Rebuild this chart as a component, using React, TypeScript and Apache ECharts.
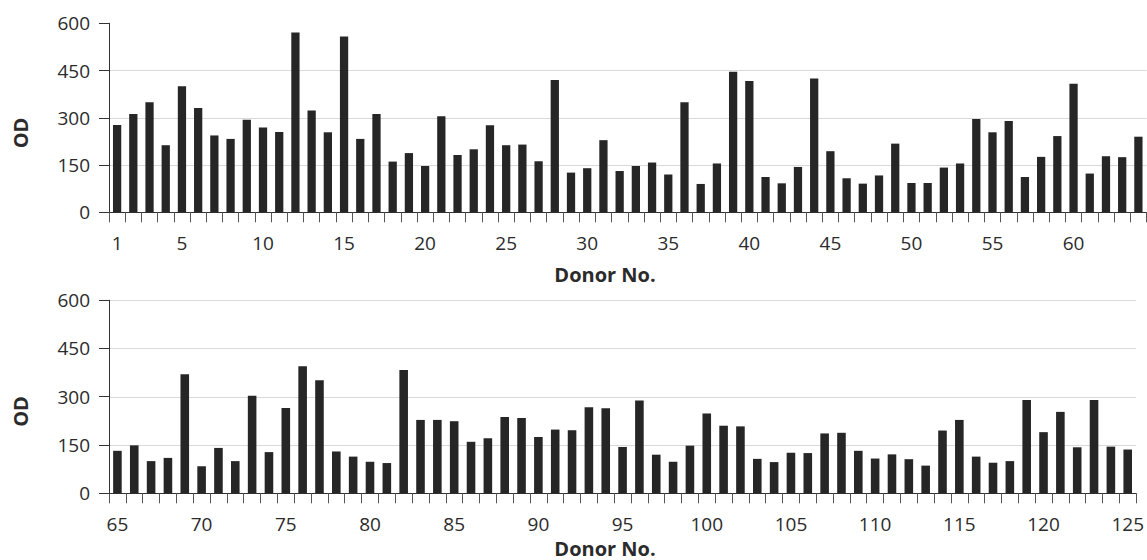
import React, { useEffect, useRef } from "react";
import * as echarts from "echarts";

const topDonors: string[] = Array.from({ length: 64 }, (_, i) => String(i + 1));
const topValues: number[] = [
  277, 312, 349, 213, 400, 331, 244, 233, 294, 269,
  255, 571, 323, 254, 558, 233, 312, 161, 188, 147,
  305, 182, 200, 276, 213, 215, 162, 420, 126, 140,
  229, 131, 147, 158, 120, 349, 90, 155, 446, 417,
  112, 92, 144, 425, 194, 108, 91, 117, 218, 93,
  93, 142, 155, 296, 254, 290, 112, 176, 242, 408,
  123, 178, 175, 240,
];

const bottomDonors: string[] = Array.from({ length: 61 }, (_, i) => String(i + 65));
const bottomValues: number[] = [
  132, 149, 100, 110, 370, 84, 141, 100, 303, 128,
  265, 395, 351, 130, 114, 98, 94, 383, 228, 228,
  224, 160, 171, 237, 234, 175, 198, 196, 267, 264,
  144, 288, 120, 98, 148, 248, 210, 208, 107, 97,
  126, 125, 186, 188, 132, 108, 121, 106, 86, 195,
  228, 114, 95, 100, 290, 190, 253, 143, 290, 145,
  136,
];

const yTicks: number[] = [0, 150, 300, 450, 600];

const FONT = '"Open Sans", "Noto Sans", sans-serif';
const TEXT = "#2b2b2b";

export default function App() {
  const ref = useRef<HTMLDivElement>(null);

  useEffect(() => {
    if (!ref.current) return;
    const chart = echarts.init(ref.current, undefined, { renderer: "svg" });

    const labelInterval = (idx: number, val: string) =>
      idx === 0 || Number(val) % 5 === 0;

    const xAxisBase = {
      type: "category" as const,
      boundaryGap: true,
      axisLine: { lineStyle: { color: "#333", width: 1 } },
      axisTick: {
        show: true,
        interval: 0,
        length: 10,
        inside: false,
        lineStyle: { color: "#555", width: 1 },
      },
      axisLabel: {
        interval: labelInterval,
        color: TEXT,
        fontSize: 19,
        lineHeight: 19,
        fontFamily: FONT,
        margin: 21,
        showMaxLabel: true,
      },
      splitLine: { show: false },
    };

    const yAxisBase = {
      type: "value" as const,
      min: yTicks[0],
      max: yTicks[yTicks.length - 1],
      interval: yTicks[1] - yTicks[0],
      axisLine: { show: true, lineStyle: { color: "#333", width: 1 } },
      axisTick: { show: true, length: 10, lineStyle: { color: "#333", width: 1 } },
      axisLabel: {
        color: TEXT,
        fontSize: 19,
        fontFamily: FONT,
        margin: 19,
      },
    };

    const titleStyle = {
      fontFamily: FONT,
      fontSize: 20,
      fontWeight: "bold",
      lineHeight: 20,
      fill: TEXT,
      align: "center",
      verticalAlign: "middle",
    };

    chart.setOption({
      animation: false,
      backgroundColor: "#ffffff",
      grid: [
        { left: 109, right: 0.5, top: 23.3, height: 189 },
        { left: 109, right: 9, top: 300.2, height: 193.1 },
      ],
      xAxis: [
        { ...xAxisBase, gridIndex: 0, data: topDonors },
        { ...xAxisBase, gridIndex: 1, data: bottomDonors },
      ],
      yAxis: [
        {
          ...yAxisBase,
          gridIndex: 0,
          splitLine: {
            show: true,
            lineStyle: {
              color: ["#d9d9d9", "#d9d9d9", "#d9d9d9", "#d9d9d9", "rgba(0,0,0,0)"],
              width: 1,
            },
          },
        },
        {
          ...yAxisBase,
          gridIndex: 1,
          splitLine: { show: true, lineStyle: { color: "#d9d9d9", width: 1 } },
        },
      ],
      series: [
        {
          type: "bar",
          xAxisIndex: 0,
          yAxisIndex: 0,
          data: topValues,
          barWidth: "51%",
          itemStyle: { color: "#262626" },
        },
        {
          type: "bar",
          xAxisIndex: 1,
          yAxisIndex: 1,
          data: bottomValues,
          barWidth: "51%",
          itemStyle: { color: "#262626" },
        },
      ],
      graphic: [
        {
          type: "text",
          x: 20.5,
          y: 133,
          rotation: Math.PI / 2,
          style: { ...titleStyle, text: "OD" },
        },
        {
          type: "text",
          x: 20.5,
          y: 411.5,
          rotation: Math.PI / 2,
          style: { ...titleStyle, text: "OD" },
        },
        {
          type: "text",
          x: 605,
          y: 274,
          style: { ...titleStyle, text: "Donor No." },
        },
        {
          type: "text",
          x: 605,
          y: 548,
          style: { ...titleStyle, text: "Donor No." },
        },
      ],
    });

    return () => chart.dispose();
  }, []);

  return (
    <div
      ref={ref}
      style={{ position: "fixed", left: 0, top: 0, width: 1147, height: 560, background: "#fff" }}
    />
  );
}
